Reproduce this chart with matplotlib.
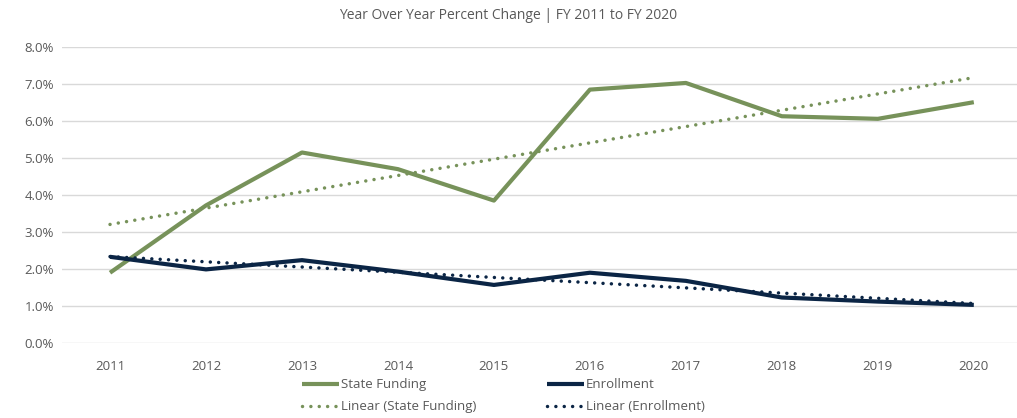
import matplotlib.pyplot as plt
import numpy as np

years = ["2011", "2012", "2013", "2014", "2015", "2016", "2017", "2018", "2019", "2020"]
state_funding = [1.90, 3.72, 5.15, 4.70, 3.85, 6.85, 7.03, 6.13, 6.06, 6.51]
enrollment = [2.33, 1.99, 2.24, 1.93, 1.57, 1.90, 1.68, 1.23, 1.12, 1.03]

green = "#77925a"
navy = "#0b2545"
grey = "#595959"

plt.rcParams["font.family"] = ["Open Sans", "DejaVu Sans"]

fig = plt.figure(figsize=(10.17, 4.18), dpi=100)
ax = fig.add_axes([0.061, 0.1794, 0.939, 0.708])

x = np.arange(len(years))

# least-squares trend lines
fit_sf = np.polyval(np.polyfit(x, state_funding, 1), x)
fit_en = np.polyval(np.polyfit(x, enrollment, 1), x)

l1, = ax.plot(x, state_funding, color=green, lw=3, solid_capstyle="butt",
              label="State Funding", clip_on=False, zorder=3)
l2, = ax.plot(x, enrollment, color=navy, lw=3, solid_capstyle="butt",
              label="Enrollment", clip_on=False, zorder=3)
l3, = ax.plot(x, fit_sf, color=green, lw=2.5, linestyle=(0, (0.01, 2.4)),
              dash_capstyle="round", label="Linear (State Funding)",
              clip_on=False, zorder=4)
l4, = ax.plot(x, fit_en, color=navy, lw=2.5, linestyle=(0, (0.01, 2.4)),
              dash_capstyle="round", label="Linear (Enrollment)",
              clip_on=False, zorder=4)

ax.set_xlim(-0.5, 9.45)
ax.set_ylim(0, 8)
ax.set_yticks(np.arange(0, 9, 1))
ax.set_yticklabels([f"{v:.1f}%" for v in range(9)])
ax.set_xticks(x)
ax.set_xticklabels(years)
ax.grid(axis="y", color="#d9d9d9", lw=1)
ax.set_axisbelow(True)
for s in ax.spines.values():
    s.set_visible(False)
ax.tick_params(length=0, colors=grey, labelsize=9.5)
ax.tick_params(axis="x", pad=12)
ax.tick_params(axis="y", pad=6)

fig.text(0.5, 0.963, "Year Over Year Percent Change | FY 2011 to FY 2020",
         ha="center", va="center", color=grey, fontsize=10)

fig.legend(handles=[l1, l3, l2, l4], ncol=2, loc="center",
           bbox_to_anchor=(0.495, 0.053), frameon=False, fontsize=9.5,
           labelcolor=grey, handlelength=2.8, handletextpad=0.15,
           columnspacing=5.3, labelspacing=0.7)

fig.savefig("out.png", dpi=100)
